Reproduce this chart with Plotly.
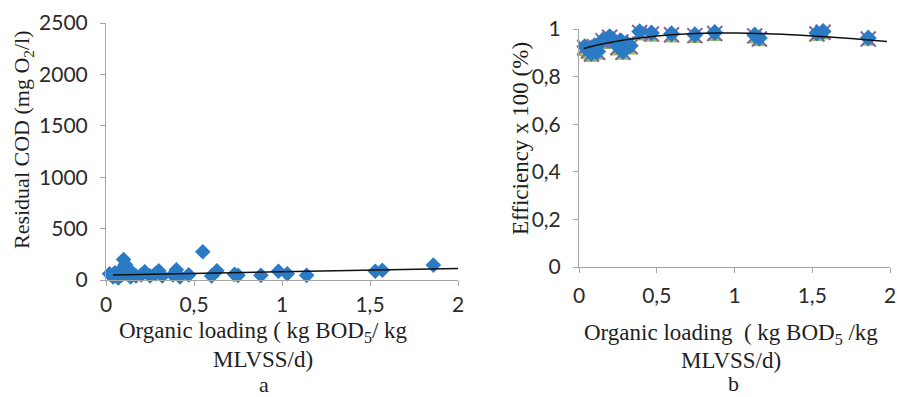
import plotly.graph_objects as go

# ---------------- data ----------------
# Panel a: residual COD vs organic loading
cod_x = [0.02, 0.04, 0.05, 0.06, 0.07, 0.08, 0.09, 0.10, 0.11, 0.12, 0.14, 0.15,
         0.17, 0.20, 0.22, 0.25, 0.28, 0.30, 0.32, 0.38, 0.40, 0.42, 0.47, 0.55,
         0.60, 0.63, 0.73, 0.75, 0.88, 0.98, 1.03, 1.14, 1.53, 1.57, 1.86]
cod_y = [60, 30, 70, 40, 20, 90, 50, 200, 150, 60, 30, 70,
         40, 50, 80, 40, 60, 90, 40, 50, 100, 30, 50, 275,
         40, 90, 55, 45, 45, 85, 60, 45, 85, 95, 145]
cod_trend_x = [0.04, 2.0]
cod_trend_y = [48, 113]

# Panel b: efficiency vs organic loading (several overlapping series)
eff_x = [0.037, 0.06, 0.08, 0.10, 0.12, 0.154, 0.197, 0.22, 0.25, 0.27, 0.283, 0.305,
         0.33, 0.39, 0.466, 0.595, 0.745, 0.873, 1.13, 1.16, 1.53, 1.57, 1.86]
eff_diamond = [0.926, 0.912, 0.898, 0.930, 0.905, 0.954, 0.968, 0.955, 0.926, 0.950,
               0.905, 0.940, 0.930, 0.989, 0.983, 0.980, 0.976, 0.985, 0.975, 0.962,
               0.983, 0.990, 0.962]
eff_cross = [0.922, 0.908, 0.895, 0.926, 0.902, 0.950, 0.965, 0.951, 0.922, 0.946,
             0.902, 0.936, 0.926, 0.985, 0.979, 0.976, 0.972, 0.981, 0.971, 0.958,
             0.979, 0.986, 0.958]
eff_triangle = [0.900, 0.888, 0.875, 0.905, 0.884, 0.930, 0.945, 0.932, 0.902, 0.925,
                0.884, 0.916, 0.906, 0.965, 0.960, 0.957, 0.955, 0.963, 0.953, 0.941,
                0.963, 0.970, 0.943]
eff_trend_x = [0.03, 0.15, 0.30, 0.50, 0.75, 1.00, 1.25, 1.50, 1.75, 1.98]
eff_trend_y = [0.918, 0.937, 0.955, 0.971, 0.981, 0.983, 0.979, 0.971, 0.960, 0.948]

x_ticks = [0, 0.5, 1, 1.5, 2]
x_ticklabels = ["0", "0,5", "1", "1,5", "2"]
cod_ticks = [0, 500, 1000, 1500, 2000, 2500]
eff_ticks = [0, 0.2, 0.4, 0.6, 0.8, 1]
eff_ticklabels = ["0", "0,2", "0,4", "0,6", "0,8", "1"]

# ---------------- styles ----------------
W, H = 897, 397
BLUE = "#2a7bc4"
PURPLE = "#8064A2"
GREEN = "#9BBB59"
AXIS_COL = "#a6a6a6"
TICK_FONT = dict(family="Lato", size=21, color="#2b2b2b")
SERIF = "Times New Roman, Liberation Serif, DejaVu Serif, serif"


def px_x(p):
    return p / W


def px_y(p):
    return 1 - p / H


fig = go.Figure()

# Panel a
fig.add_trace(go.Scatter(x=cod_x, y=cod_y, mode="markers", xaxis="x", yaxis="y",
                         marker=dict(symbol="diamond", size=12, color=BLUE),
                         cliponaxis=False, showlegend=False))
fig.add_trace(go.Scatter(x=cod_trend_x, y=cod_trend_y, mode="lines", xaxis="x", yaxis="y",
                         line=dict(color="#111111", width=1.5),
                         cliponaxis=False, showlegend=False))

# Panel b
fig.add_trace(go.Scatter(x=eff_x, y=eff_triangle, mode="markers", xaxis="x2", yaxis="y2",
                         marker=dict(symbol="triangle-up", size=13, color=GREEN),
                         cliponaxis=False, showlegend=False))
fig.add_trace(go.Scatter(x=eff_x, y=eff_cross, mode="markers", xaxis="x2", yaxis="y2",
                         marker=dict(symbol="x-thin", size=15, color=PURPLE,
                                     line=dict(color=PURPLE, width=2)),
                         cliponaxis=False, showlegend=False))
fig.add_trace(go.Scatter(x=eff_x, y=eff_diamond, mode="markers", xaxis="x2", yaxis="y2",
                         marker=dict(symbol="diamond", size=13, color=BLUE),
                         cliponaxis=False, showlegend=False))
fig.add_trace(go.Scatter(x=eff_trend_x, y=eff_trend_y, mode="lines", xaxis="x2", yaxis="y2",
                         line=dict(color="#111111", width=1.5, shape="spline"),
                         cliponaxis=False, showlegend=False))

common = dict(showgrid=False, zeroline=False, showline=True, linecolor=AXIS_COL,
              linewidth=1, ticks="outside", ticklen=5, tickcolor=AXIS_COL,
              tickfont=TICK_FONT, fixedrange=True, automargin=False)

fig.update_layout(
    width=W, height=H, autosize=False,
    margin=dict(l=0, r=0, t=0, b=0, pad=0, autoexpand=False),
    paper_bgcolor="white", plot_bgcolor="white",
    xaxis=dict(domain=[px_x(106), px_x(458)], range=[0, 2], anchor="y",
               tickvals=x_ticks, ticktext=x_ticklabels, ticklabelstandoff=1, **common),
    yaxis=dict(domain=[px_y(280), px_y(23)], range=[0, 2500], anchor="x",
               tickvals=cod_ticks, ticklabelstandoff=8, **common),
    xaxis2=dict(domain=[px_x(579), px_x(890)], range=[0, 2], anchor="y2",
                tickvals=x_ticks, ticktext=x_ticklabels, ticklabelstandoff=5, **common),
    yaxis2=dict(domain=[px_y(267), px_y(29)], range=[0, 1], anchor="x2",
                tickvals=eff_ticks, ticktext=eff_ticklabels, ticklabelstandoff=8, **common),
)

ann = [
    dict(text="Residual COD (mg O<sub>2</sub>/l)", x=px_x(23), y=px_y(140), textangle=-90, size=22),
    dict(text="Organic loading ( kg BOD<sub>5</sub>/ kg", x=px_x(263), y=px_y(332), size=23),
    dict(text="MLVSS/d)", x=px_x(263), y=px_y(359), size=23),
    dict(text="a", x=px_x(264), y=px_y(384), size=22),
    dict(text="Efficiency x 100 (%)", x=px_x(520), y=px_y(139), textangle=-90, size=23),
    dict(text="Organic loading  ( kg BOD<sub>5</sub> /kg", x=px_x(731), y=px_y(334), size=23),
    dict(text="MLVSS/d)", x=px_x(731), y=px_y(360), size=23),
    dict(text="b", x=px_x(733), y=px_y(383), size=22),
]
for a in ann:
    size = a.pop("size")
    fig.add_annotation(xref="paper", yref="paper", showarrow=False,
                       xanchor="center", yanchor="middle",
                       font=dict(family=SERIF, size=size, color="#1e1e1e"), **a)

fig.write_html("out.html", config={"displayModeBar": False, "staticPlot": True},
               post_script="document.body.style.margin='0';document.body.style.overflow='hidden';")
